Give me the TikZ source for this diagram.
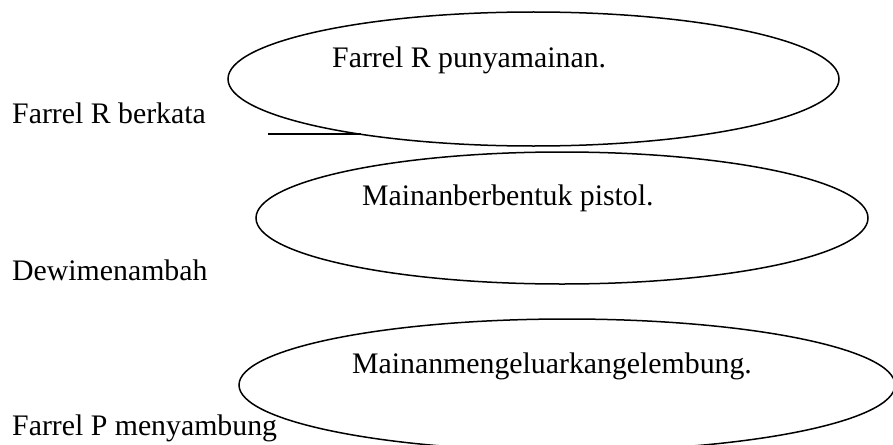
\documentclass[tikz,border=0pt]{standalone}
\usepackage{fontspec}
\setmainfont{Liberation Serif}
\usetikzlibrary{shapes.geometric}
\begin{document}
\begin{tikzpicture}[x=1pt,y=-1pt,
  bubble/.style={draw=black,line width=1.5pt,ellipse,inner sep=0pt,fill=none},
  lbl/.style={anchor=base west,inner sep=0pt,font=\fontsize{29.8}{36}\selectfont},
  conn/.style={draw=black,line width=1.5pt}]
\useasboundingbox (0,0) rectangle (893,444);
\clip (0,0) rectangle (893,444);
\fill[white] (0,0) rectangle (893,444);
% ellipses
\node[bubble,minimum width=611pt,minimum height=134pt] (e1) at (533.5,79) {};
\node[bubble,minimum width=612pt,minimum height=132pt] (e2) at (562,218) {};
\node[bubble,minimum width=656pt,minimum height=132pt] (e3) at (567,385) {};
% texts in ellipses
\node[lbl] (t1) at (332,67) {Farrel R punyamainan.};
\node[lbl] (t2) at (362,205) {Mainanberbentuk pistol.};
\node[lbl] (t3) at (352,373) {Mainanmengeluarkangelembung.};
% left labels
\node[lbl] (l1) at (12,123) {Farrel R berkata};
\node[lbl] (l2) at (12,280) {Dewimenambah};
\node[lbl] (l3) at (12,435) {Farrel P menyambung};
% connector line
\coordinate (ls) at (268,134);
\draw[conn] (ls) -- (e1.198 |- ls);
\end{tikzpicture}
\end{document}
